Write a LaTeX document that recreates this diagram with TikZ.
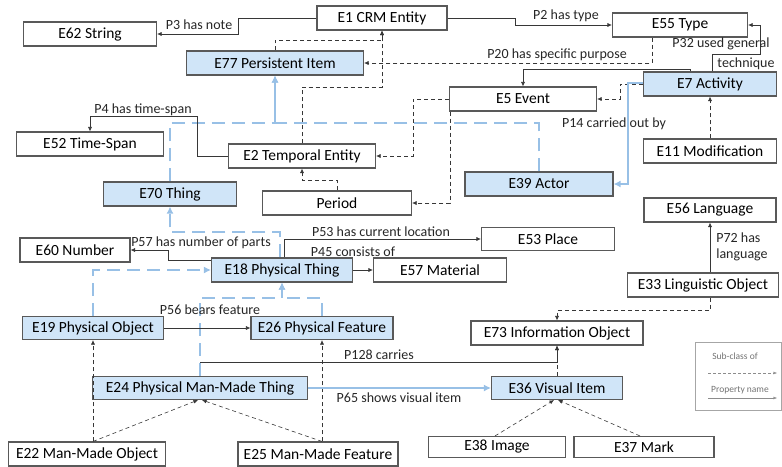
\documentclass[tikz,border=0pt]{standalone}
\usepackage{fontspec}
\setmainfont{Carlito}
\usetikzlibrary{arrows.meta}

\definecolor{clsblue}{RGB}{208,229,248}
\definecolor{linkblue}{RGB}{152,192,230}
\definecolor{linegray}{RGB}{55,55,55}

\begin{document}
\begin{tikzpicture}[
    x=1pt, y=-1pt,
    >={Latex[length=4.5pt, width=4pt]},
    cls/.style={draw=black!65, line width=1.1pt, fill=white, minimum height=24pt,
        inner sep=0pt, font=\fontsize{15.5}{17}\selectfont},
    clsb/.style={cls, fill=clsblue},
    sub/.style={linegray, semithick, dash pattern=on 4pt off 3pt, ->},
    subb/.style={linkblue, line width=2pt, dash pattern=on 13pt off 7pt,
        -{Latex[length=7pt, width=7pt]}},
    prop/.style={linegray, semithick, ->},
    propb/.style={linkblue, line width=1.6pt, -{Latex[length=7pt, width=7pt]}},
    lbl/.style={font=\fontsize{14}{16}\selectfont, text=black!85, inner sep=1pt},
    leg/.style={font=\fontsize{9.5}{11}\selectfont, text=black!55, inner sep=1pt},
]

\useasboundingbox (0,0) rectangle (782,466);

% =============================================================================
% Classes
% =============================================================================
\node[cls,  minimum width=130pt] (crm)          at (382,18)  {E1 CRM Entity};
\node[cls,  minimum width=133pt] (string)       at (90,34)   {E62 String};
\node[cls,  minimum width=135pt] (type)         at (680,25)  {E55 Type};
\node[clsb, minimum width=177pt] (persistent)   at (275,63)  {E77 Persistent Item};
\node[cls,  minimum width=147pt] (event)        at (523,99)  {E5 Event};
\node[clsb, minimum width=133pt] (activity)     at (710,84)  {E7 Activity};
\node[cls,  minimum width=147pt] (timespan)     at (90,144)  {E52 Time-Span};
\node[cls,  minimum width=147pt] (temporal)     at (302,156) {E2 Temporal Entity};
\node[cls,  minimum width=133pt] (modification) at (710,151) {E11 Modification};
\node[clsb, minimum width=148pt] (actor)        at (539,184) {E39 Actor};
\node[clsb, minimum width=133pt] (thing)        at (170,194) {E70 Thing};
\node[cls,  minimum width=149pt] (period)       at (337,203) {Period};
\node[cls,  minimum width=132pt] (language)     at (710,210) {E56 Language};
\node[cls,  minimum width=110pt] (number)       at (75,250)  {E60 Number};
\node[cls,  minimum width=133pt, minimum height=23pt] (place) at (548,239) {E53 Place};
\node[clsb, minimum width=141pt] (physthing)    at (282,270) {E18 Physical Thing};
\node[cls,  minimum width=133pt] (material)     at (440,270) {E57 Material};
\node[cls,  minimum width=151pt] (linguistic)   at (703,285) {E33 Linguistic Object};
\node[clsb, minimum width=141pt, minimum height=23pt] (physobj)  at (93,328)  {E19 Physical Object};
\node[clsb, minimum width=142pt, minimum height=23pt] (physfeat) at (322,328) {E26 Physical Feature};
\node[cls,  minimum width=172pt] (infoobj)      at (557,333) {E73 Information Object};
\node[clsb, minimum width=215pt, minimum height=23pt] (pmmt)     at (200,388) {E24 Physical Man-Made Thing};
\node[clsb, minimum width=131pt, minimum height=23pt] (visual)   at (557,388) {E36 Visual Item};
\node[cls,  minimum width=157pt] (mmobj)        at (87,454)  {E22 Man-Made Object};
\node[cls,  minimum width=160pt] (mmfeat)       at (318,454) {E25 Man-Made Feature};
\node[cls,  minimum width=137pt, minimum height=21pt] (image) at (497,447) {E38 Image};
\node[cls,  minimum width=140pt, minimum height=21pt] (mark)  at (644,447) {E37 Mark};

% =============================================================================
% Sub-class links (dashed)
% =============================================================================
\draw[sub] (persistent.north) -- ++(0,-10) -| (crm.south);
\draw[sub] (temporal.north) -- (302,87) -| (crm.south);
\draw[sub] ([xshift=-28pt]type.south) |- (persistent.east);
\draw[sub] (event.west) -- (413,99) |- (temporal.east);
\draw[sub] ([xshift=1pt]event.south west) |- (period.east);
\draw[sub] (period.north) -- ++(0,-10) -| (temporal.south);
\draw[sub] (activity.west) -- (620,84) |- (event.east);
\draw[sub] (modification.north) -- (activity.south);
\draw[sub] ([xshift=7pt]linguistic.south) -- ++(0,13) -| (infoobj.north);
\draw[sub] (visual.north) -- (infoobj.south);
\draw[sub] ([xshift=6pt]mmobj.north) -- (physobj.south);
\draw[sub] ([xshift=6pt]mmobj.north) -- ([xshift=-2pt]pmmt.south);
\draw[sub] ([xshift=4pt]mmfeat.north) -- (physfeat.south);
\draw[sub] ([xshift=4pt]mmfeat.north) -- ([xshift=2pt]pmmt.south);
\draw[sub] ([xshift=-2pt]image.north) -- ([xshift=-3pt]visual.south);
\draw[sub] ([xshift=-4pt]mark.north) -- ([xshift=1pt]visual.south);

% --- blue sub-class links ---
\draw[subb] (actor.north) |- (275,123) -- (persistent.south);
\draw[subb] (thing.north) |- (275,123) -- (persistent.south);
\draw[subb] ([xshift=-2pt]physthing.north) |- (170,232) -- (thing.south);
\draw[subb] (physobj.north) |- (physthing.west);
\draw[subb] (physfeat.north) |- (282,298) -- (physthing.south);
\draw[subb] (pmmt.north) |- (282,298) -- (physthing.south);

% =============================================================================
% Properties (solid)
% =============================================================================
\draw[prop] (crm.west) -- (238,18) |- (string.east);
\node[lbl] (p3) at (199,25) {P3 has note};

\draw[prop] (crm.east) -- (515,18) |- (type.west);
\node[lbl] (p2) at (566,16) {P2 has type};

\node[lbl] (p20) at (557,55) {P20 has specific purpose};

\draw[prop] ([xshift=2pt]activity.north) |- (760,54) |- (type.east);
\node[lbl] (p32a) at (721,44) {P32 used general};
\node[lbl] (p32b) at (746,64) {technique};

\draw[prop] ([xshift=-20pt]activity.north) -- ++(0,-2) -| (event.north);

\draw[propb] ([yshift=1pt]activity.west) -- (628,83) |- (actor.east);
\node[lbl] (p14) at (614,124) {P14 carried out by};

\draw[prop] (temporal.west) -| (197,116) -| (timespan.north);
\node[lbl] (p4) at (143,110) {P4 has time-span};

\draw[prop] ([yshift=10pt]physthing.west) -- (168,260) |- (number.east);
\node[lbl] (p57) at (201,243) {P57 has number of parts};

\draw[prop] ([xshift=2pt]physthing.north) |- (place.west);
\node[lbl] (p53) at (381,232) {P53 has current location};

\draw[prop] (physthing.east) -- (material.west);
\node[lbl] (p45) at (353,252) {P45 consists of};

\draw[prop] (physobj.east) -- (physfeat.west);
\node[lbl] (p56) at (210,310) {P56 bears feature};

\coordinate (c128) at (200,362);
\draw[prop] (c128) -| (infoobj.south);
\node[lbl] (p128) at (379,355) {P128 carries};

\draw[propb] (pmmt.east) -- (visual.west);
\node[lbl] (p65) at (399,398) {P65 shows visual item};

\draw[prop] ([xshift=7pt]linguistic.north) -- (language.south);
\node[lbl, align=left] (p72) at (742,247) {P72 has\\language};

% =============================================================================
% Legend
% =============================================================================
\node[draw=black!35, minimum width=86pt, minimum height=68pt, inner sep=0pt] (legend) at (738,376) {};
\node[leg] (legsub) at (735,356) {Sub-class of};
\coordinate (ls1) at (708,373);
\coordinate (ls2) at (777,373);
\draw[black!45, thin, dash pattern=on 3pt off 2pt, -{Latex[length=3.5pt, width=3pt]}] (ls1) -- (ls2);
\node[leg] (legprop) at (740,390) {Property name};
\coordinate (lp1) at (708,398);
\coordinate (lp2) at (777,398);
\draw[black!45, thin, -{Latex[length=3.5pt, width=3pt]}] (lp1) -- (lp2);

\end{tikzpicture}
\end{document}
